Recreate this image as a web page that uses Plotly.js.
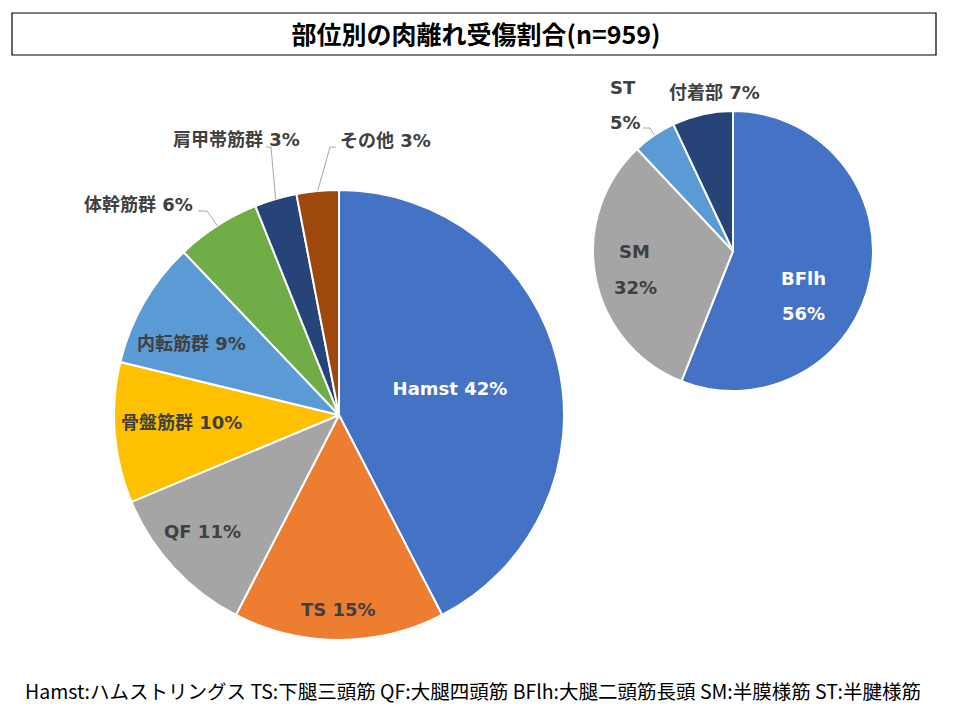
<!DOCTYPE html>
<html>
<head>
<meta charset="utf-8">
<script src="https://cdn.plot.ly/plotly-3.0.1.min.js"></script>
<style>html,body{margin:0;padding:0;background:#fff;}#chart{width:960px;height:720px;}</style>
</head>
<body>
<div id="chart"></div>
<script>
// Left pie: injury site share
const leftLabels = ['Hamst', 'TS', 'QF', '骨盤筋群', '内転筋群', '体幹筋群', '肩甲帯筋群', 'その他'];
const leftValues = [42, 15, 11, 10, 9, 6, 3, 3];
const leftColors = ['#4472C4', '#ED7D31', '#A5A5A5', '#FFC000', '#5B9BD5', '#70AD47', '#264478', '#9E480E'];

// Right pie: hamstring breakdown
const rightLabels = ['BFlh', 'SM', 'ST', '付着部'];
const rightValues = [56, 32, 5, 7];
const rightColors = ['#4472C4', '#A5A5A5', '#5B9BD5', '#264478'];

const titleText = '部位別の肉離れ受傷割合(n=959)';
const footerText = 'Hamst:ハムストリングス TS:下腿三頭筋 QF:大腿四頭筋 BFlh:大腿二頭筋長頭 SM:半膜様筋 ST:半腱様筋';

const W = 960, H = 720;
const labelFont = 'DejaVu Sans, Noto Sans CJK JP, sans-serif';
const cjkFont = 'Noto Sans CJK JP, Noto Sans, sans-serif';
const dark = '#404040';
const leaderColor = '#A6A6A6';

const leftDomain = {x: [0.11875, 0.5875], y: [0.1111, 0.7361]};
const rightDomain = {x: [0.6177, 0.9094], y: [0.4569, 0.8458]};

// slices whose label is drawn by the pie trace itself
const leftNative = [true, false, false, false, false, false, false, false];
const rightNative = [false, false, false, false];

function pct(values, i) {
  const t = values.reduce((a, b) => a + b, 0);
  return Math.round(values[i] / t * 100) + '%';
}

// edge point (pixel) of a slice's middle, derived from the data and the pie domain
function edgePoint(domain, values, i) {
  const t = values.reduce((a, b) => a + b, 0);
  let c = 0;
  for (let k = 0; k < i; k++) c += values[k];
  c += values[i] / 2;
  const a = c / t * 2 * Math.PI;
  const cx = (domain.x[0] + domain.x[1]) / 2 * W;
  const cy = (1 - (domain.y[0] + domain.y[1]) / 2) * H;
  const r = Math.min((domain.x[1] - domain.x[0]) * W, (domain.y[1] - domain.y[0]) * H) / 2;
  return [cx + r * Math.sin(a), cy - r * Math.cos(a)];
}

const px = x => x / W;
const py = y => 1 - y / H;

function nativeTemplates(labels, native) {
  return labels.map((l, i) => native[i] ? '%{label} %{percent:.0%}' : '');
}

const left = {
  type: 'pie',
  labels: leftLabels,
  values: leftValues,
  sort: false,
  direction: 'clockwise',
  rotation: 0,
  marker: {colors: leftColors, line: {color: '#ffffff', width: 2}},
  texttemplate: nativeTemplates(leftLabels, leftNative),
  textposition: 'inside',
  insidetextorientation: 'horizontal',
  insidetextfont: {family: labelFont, size: 18, weight: 'bold', color: ['#ffffff', dark, dark, dark, dark, dark, dark, dark]},
  hoverinfo: 'none',
  showlegend: false,
  domain: leftDomain
};

const right = {
  type: 'pie',
  labels: rightLabels,
  values: rightValues,
  sort: false,
  direction: 'clockwise',
  rotation: 0,
  marker: {colors: rightColors, line: {color: '#ffffff', width: 2}},
  texttemplate: nativeTemplates(rightLabels, rightNative),
  textposition: 'inside',
  insidetextorientation: 'horizontal',
  insidetextfont: {family: labelFont, size: 18, weight: 'bold', color: dark},
  hoverinfo: 'none',
  showlegend: false,
  domain: rightDomain
};

// placement of the other labels (pixel centres); part: 'both' | 'label' | 'pct'
const labelPlacement = [
  {pie: 'left', idx: 1, color: dark, parts: [{part: 'both', cx: 338, cy: 609}], line: null},
  {pie: 'left', idx: 2, color: dark, parts: [{part: 'both', cx: 202, cy: 531}], line: null},
  {pie: 'left', idx: 3, color: dark, parts: [{part: 'both', cx: 181, cy: 422}], line: null},
  {pie: 'left', idx: 4, color: dark, parts: [{part: 'both', cx: 191, cy: 343}], line: null},
  {pie: 'left', idx: 5, color: dark, parts: [{part: 'both', cx: 138, cy: 204}], line: [[198, 211], [207, 211]]},
  {pie: 'left', idx: 6, color: dark, parts: [{part: 'both', cx: 236, cy: 139}], line: [[266, 147], [271, 147]]},
  {pie: 'left', idx: 7, color: dark, parts: [{part: 'both', cx: 385, cy: 141}], line: [[336, 147], [330, 147]]},
  {pie: 'right', idx: 0, color: '#ffffff', parts: [{part: 'label', cx: 803, cy: 278}, {part: 'pct', cx: 803, cy: 313}], line: null},
  {pie: 'right', idx: 1, color: dark, parts: [{part: 'label', cx: 634, cy: 251}, {part: 'pct', cx: 635, cy: 287}], line: null},
  {pie: 'right', idx: 2, color: dark, parts: [{part: 'label', cx: 623, cy: 87}, {part: 'pct', cx: 625, cy: 122}], line: [[643, 128], [650, 128]]},
  {pie: 'right', idx: 3, color: dark, parts: [{part: 'both', cx: 714, cy: 92}], line: null}
];

const annotations = [];
const shapes = [{
  type: 'rect', xref: 'paper', yref: 'paper',
  x0: px(12), x1: px(936), y0: py(55), y1: py(13),
  line: {color: '#000000', width: 1.2}, fillcolor: 'rgba(0,0,0,0)'
}];

labelPlacement.forEach(p => {
  const labels = p.pie === 'left' ? leftLabels : rightLabels;
  const values = p.pie === 'left' ? leftValues : rightValues;
  const domain = p.pie === 'left' ? leftDomain : rightDomain;
  p.parts.forEach(q => {
    const txt = q.part === 'label' ? labels[p.idx] : q.part === 'pct' ? pct(values, p.idx) : labels[p.idx] + ' ' + pct(values, p.idx);
    annotations.push({
      text: '<b>' + txt + '</b>',
      xref: 'paper', yref: 'paper', x: px(q.cx), y: py(q.cy),
      xanchor: 'center', yanchor: 'middle', showarrow: false,
      font: {family: labelFont, size: 18, color: p.color}
    });
  });
  if (p.line) {
    const e = edgePoint(domain, values, p.idx);
    const pts = p.line.concat([e]);
    const path = pts.map((q, k) => (k === 0 ? 'M ' : ' L ') + px(q[0]) + ' ' + py(q[1])).join('');
    shapes.push({type: 'path', xref: 'paper', yref: 'paper', path: path, line: {color: leaderColor, width: 1}});
  }
});

annotations.push({
  text: footerText, xref: 'paper', yref: 'paper',
  x: px(473), y: py(690), xanchor: 'center', yanchor: 'middle',
  showarrow: false,
  font: {family: cjkFont, size: 19.5, color: '#000000'}
});

const layout = {
  width: W,
  height: H,
  margin: {l: 0, r: 0, t: 0, b: 0},
  paper_bgcolor: '#ffffff',
  title: {
    text: titleText,
    font: {family: cjkFont, size: 25, weight: 'bold', color: '#000000'},
    x: px(476), xanchor: 'center',
    y: py(35), yanchor: 'middle'
  },
  shapes: shapes,
  annotations: annotations
};

Plotly.newPlot('chart', [left, right], layout, {displayModeBar: false, staticPlot: true});
</script>
</body>
</html>
